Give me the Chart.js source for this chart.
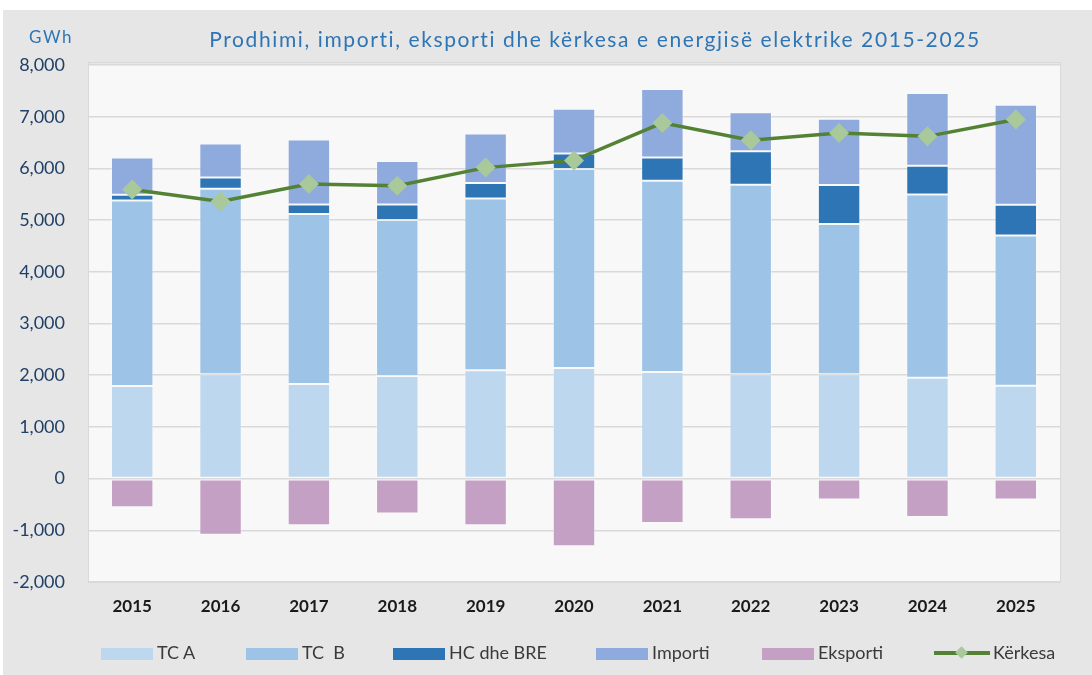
<!DOCTYPE html>
<html>
<head>
<meta charset="utf-8">
<script src="https://cdn.jsdelivr.net/npm/chart.js@4.4.1/dist/chart.umd.min.js"></script>
<style>
    html, body { margin: 0; padding: 0; background: #ffffff; }
    #wrap { position: relative; width: 1092px; height: 675px; }
    #chart { position: absolute; left: 0; top: 0; }
    .lg { position: absolute; top: 643px; font: 18px Lato, sans-serif; color: #3a3a3a; white-space: nowrap; line-height: 18px; }
    .lg i { display: inline-block; width: 52px; height: 12px; vertical-align: -1px; margin-right: 4px; }
    .lg b.ln { display: inline-block; position: relative; width: 56px; height: 4px; background: #548235; vertical-align: 4px; margin-right: 3px; }
    .lg b.ln:after { content: ''; position: absolute; left: 23px; top: -3px; width: 9px; height: 9px; background: #a9c99a; transform: rotate(45deg); }
</style>
</head>
<body>
<div id="wrap">
    <canvas id="chart" width="1092" height="675"></canvas>
    <div class="lg" style="left:101px"><i style="background:#bdd7ee"></i>TC A</div>
    <div class="lg" style="left:246px"><i style="background:#9dc3e6"></i>TC&nbsp; B</div>
    <div class="lg" style="left:393px"><i style="background:#2e75b6"></i>HC dhe BRE</div>
    <div class="lg" style="left:596px"><i style="background:#8faadc"></i>Importi</div>
    <div class="lg" style="left:762px"><i style="background:#c5a0c5"></i>Eksporti</div>
    <div class="lg" style="left:934px"><b class="ln"></b>Kërkesa</div>
</div>
<script>
// Data (GWh)
const years = ['2015', '2016', '2017', '2018', '2019', '2020', '2021', '2022', '2023', '2024', '2025'];
const tcA = [1790, 2020, 1830, 1985, 2095, 2140, 2060, 2020, 2020, 1950, 1795];
const tcB = [3590, 3585, 3290, 3015, 3325, 3850, 3700, 3665, 2905, 3545, 2905];
const hcBre = [110, 220, 180, 300, 300, 300, 450, 645, 755, 555, 595];
const importi = [720, 655, 1260, 845, 955, 865, 1325, 755, 1280, 1410, 1935];
const eksporti = [-555, -1085, -900, -675, -900, -1310, -860, -785, -405, -745, -405];
const kerkesa = [5590, 5360, 5700, 5665, 6015, 6155, 6880, 6545, 6685, 6620, 6945];
const yTicks = [-2000, -1000, 0, 1000, 2000, 3000, 4000, 5000, 6000, 7000, 8000];

const colors = {
    tcA: '#bdd7ee',
    tcB: '#9dc3e6',
    hc: '#2e75b6',
    imp: '#8faadc',
    exp: '#c5a0c5',
    line: '#548235',
    marker: '#a9c99a'
};

const font = 'Lato, sans-serif';

// background + plot frame + title
const decor = {
    id: 'decor',
    beforeDraw(chart) {
        const { ctx, chartArea: a } = chart;
        ctx.save();
        ctx.fillStyle = '#ffffff';
        ctx.fillRect(0, 0, chart.width, chart.height);
        ctx.fillStyle = '#e6e6e6';
        ctx.fillRect(3, 10, chart.width - 3, chart.height - 10);
        ctx.fillStyle = '#f8f8f8';
        ctx.fillRect(a.left, a.top, a.right - a.left, a.bottom - a.top);
        ctx.strokeStyle = '#d9d9d9';
        ctx.lineWidth = 1;
        ctx.strokeRect(a.left + 0.5, a.top - 2.5, a.right - a.left, a.bottom - a.top + 3);
        ctx.restore();
    },
    afterDraw(chart) {
        const ctx = chart.ctx;
        ctx.save();
        ctx.fillStyle = '#2e75b6';
        ctx.textBaseline = 'middle';
        ctx.textAlign = 'center';
        ctx.font = '21px ' + font;
        ctx.letterSpacing = '1.6px';
        ctx.fillText('Prodhimi, importi, eksporti dhe kërkesa e energjisë elektrike 2015-2025', 595, 40);
        ctx.font = '17px ' + font;
        ctx.letterSpacing = '1.5px';
        ctx.fillText('GWh', 51, 38);
        ctx.restore();
    }
};

function barSet(label, data, color) {
    return {
        type: 'bar',
        label: label,
        data: data,
        backgroundColor: color,
        borderColor: 'rgba(255,255,255,0.3)',
        borderWidth: 1,
        borderSkipped: false,
        stack: 'bars',
        order: 2
    };
}

new Chart(document.getElementById('chart'), {
    data: {
        labels: years,
        datasets: [
            {
                type: 'line',
                label: 'Kërkesa',
                data: kerkesa,
                borderColor: colors.line,
                borderWidth: 3.5,
                pointStyle: 'rectRot',
                pointRadius: 10,
                pointBackgroundColor: colors.marker,
                pointBorderColor: colors.marker,
                pointBorderWidth: 0,
                stack: 'demand',
                order: 1,
                tension: 0
            },
            barSet('TC A', tcA, colors.tcA),
            barSet('TC  B', tcB, colors.tcB),
            barSet('HC dhe BRE', hcBre, colors.hc),
            barSet('Importi', importi, colors.imp),
            barSet('Eksporti', eksporti, colors.exp)
        ]
    },
    options: {
        responsive: false,
        animation: false,
        layout: {
            padding: { top: 65, right: 32, bottom: 48, left: 0 }
        },
        datasets: {
            bar: { categoryPercentage: 1, barPercentage: 0.48 }
        },
        plugins: {
            legend: { display: false },
            tooltip: { enabled: false }
        },
        scales: {
            x: {
                stacked: true,
                grid: { display: false },
                border: { display: false },
                afterFit: function (scale) { scale.height = 45; },
                ticks: {
                    color: '#1a1a1a',
                    padding: 6,
                    font: { family: font, size: 17, weight: 'bold' }
                }
            },
            y: {
                stacked: true,
                min: -2000,
                max: 8000,
                afterFit: function (scale) { scale.width = 88; },
                afterBuildTicks: function (scale) {
                    scale.ticks = yTicks.map(v => ({ value: v }));
                },
                grid: {
                    color: '#d9d9d9',
                    lineWidth: 1.6,
                    drawTicks: false
                },
                border: { display: false },
                ticks: {
                    color: '#1f3f66',
                    padding: 23,
                    font: { family: font, size: 18 },
                    callback: function (v) { return v.toLocaleString('en-US'); }
                }
            }
        }
    },
    plugins: [decor]
});
</script>
</body>
</html>
